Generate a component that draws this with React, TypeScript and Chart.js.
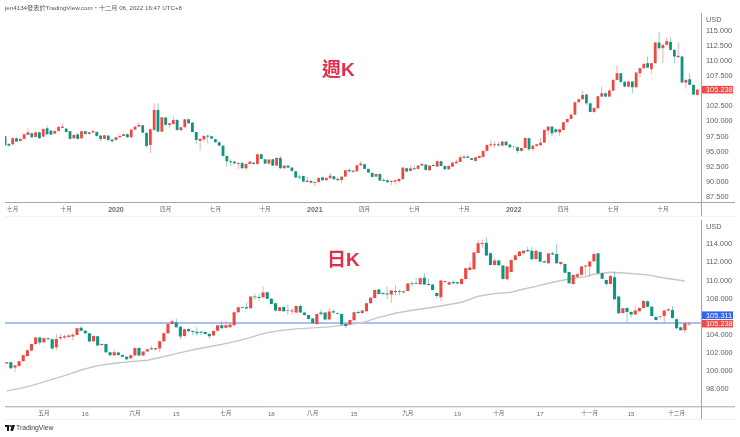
import { useEffect, useRef } from 'react'
import { Chart, registerables } from 'chart.js'

Chart.register(...registerables)

const UP = '#ea4a43'
const DOWN = '#0f9480'
const FONT = '"Liberation Sans","Noto Sans CJK TC",sans-serif'

// weekly candles
const weeklyOpen = [97.54,96.28,96.22,97.22,96.78,97.11,97.77,98.04,97.44,98.2,97.49,98.87,98.48,97.99,98.43,98.92,98.81,98.37,97.22,97.88,97.22,98.37,97.93,98.2,98.26,97.66,97.11,97.66,97.0,96.94,97.38,97.6,97.88,97.38,98.65,99.14,99.36,98.1,96.12,98.59,101.89,98.32,100.63,99.42,99.58,100.24,98.54,99.03,100.35,99.8,98.26,96.78,97.05,97.66,97.54,97.05,96.56,96.0,94.3,93.42,93.37,92.98,93.15,92.27,92.98,93.2,92.98,94.58,93.75,93.04,93.75,92.71,93.97,92.27,92.71,92.38,91.77,90.89,91.0,90.01,90.18,89.85,90.01,90.78,90.29,90.62,90.95,90.51,90.34,90.89,91.99,91.66,91.77,92.76,92.93,92.16,91.5,90.89,91.33,90.34,90.29,90.01,90.07,90.12,90.45,92.27,91.83,92.27,92.16,92.71,92.87,91.94,92.82,92.54,93.42,92.65,92.1,92.54,93.09,93.31,93.97,94.19,93.92,93.48,93.97,94.14,95.13,96.06,96.06,96.22,96.0,96.67,96.17,95.79,95.73,95.13,95.62,97.22,95.45,95.95,96.06,96.5,98.48,99.14,98.7,98.2,98.59,99.86,100.41,101.12,103.16,103.65,104.43,102.99,101.56,102.17,104.1,104.65,104.1,105.09,106.85,107.95,106.52,105.75,106.58,105.64,107.95,108.78,109.61,108.62,109.61,113.02,112.08,112.63,113.13,111.81,110.6,110.71,106.42,106.96,106.03,104.37]
const weeklyClose = [96.06,96.0,97.22,96.67,97.11,97.88,98.2,97.38,98.2,97.22,98.76,97.88,97.82,98.43,99.09,99.14,98.26,97.11,97.77,97.11,98.37,97.93,98.2,98.43,97.6,97.11,97.71,96.94,96.72,97.38,97.6,97.88,97.38,98.65,99.14,99.42,98.15,95.95,98.7,101.89,98.32,100.68,99.42,99.69,100.24,98.59,99.03,100.35,99.69,98.26,96.94,97.11,97.6,97.49,97.16,96.56,96.0,94.3,93.42,93.26,93.09,93.15,92.27,92.98,93.37,92.98,94.58,93.81,93.04,93.7,92.71,93.97,92.27,92.71,92.38,91.83,90.73,90.73,90.07,90.23,89.9,90.01,90.67,90.29,90.67,91.05,90.45,90.29,90.89,91.94,91.77,91.88,92.76,93.04,92.16,91.55,90.84,91.33,90.23,90.18,89.96,90.18,90.29,90.51,92.38,91.72,92.27,92.1,92.71,92.98,91.99,92.71,92.65,93.42,92.65,92.1,92.65,93.2,93.37,94.08,94.19,93.97,93.64,94.08,94.3,95.13,96.12,96.22,96.22,96.06,96.67,96.06,95.73,95.84,95.13,95.62,97.27,95.4,96.0,96.22,96.5,98.59,99.14,98.04,98.26,98.7,99.86,100.41,101.12,103.16,103.65,104.37,102.99,101.56,102.22,104.15,104.65,104.1,105.09,106.85,107.95,106.52,105.75,106.58,105.64,108.06,108.78,109.5,108.89,109.61,113.02,112.08,112.63,113.24,111.81,110.71,110.82,106.42,106.85,106.03,104.43,105.238]
const weeklyHigh = [97.6,96.39,97.4,97.4,97.2,97.95,98.87,98.15,98.3,98.3,98.85,99.3,98.6,98.5,99.15,99.69,98.9,98.45,97.85,98,98.45,98.45,98.25,98.55,98.35,97.7,97.8,97.75,97.1,97.45,97.7,97.95,98,98.7,99.2,99.85,99.45,98.2,98.8,102.99,102.99,100.75,100.75,99.75,100.79,100.35,99.1,100.45,100.45,99.9,98.3,97.2,97.7,97.75,97.65,97.1,96.65,96.05,94.35,93.75,93.45,93.25,93.2,93.05,93.45,93.3,94.65,94.65,93.8,93.78,93.85,94.05,94.3,92.8,92.8,92.45,91.85,91.2,91.05,90.9,90.3,90.1,90.75,90.85,90.75,91.5,91.05,90.8,90.95,92.0,92.27,91.95,92.85,93.42,93.0,92.2,91.55,91.4,91.4,90.6,90.4,90.25,90.35,90.6,92.45,92.35,92.71,92.71,92.8,93.05,92.95,92.8,92.9,93.7,93.5,92.7,92.7,93.25,93.64,94.47,94.52,94.52,94.0,94.15,94.35,95.2,96.2,96.89,96.67,96.6,96.75,96.75,96.25,95.95,95.8,95.7,97.33,97.3,96.05,96.3,97.3,98.65,99.25,99.2,98.8,98.8,99.92,100.45,101.2,103.25,103.75,105.0,104.55,103.05,102.3,104.2,105.8,104.75,105.4,106.95,109.25,108.0,106.7,106.65,106.65,108.15,108.85,109.6,110.7,109.7,113.1,114.75,112.7,113.8,113.9,111.85,113.07,110.8,106.95,107.95,106.1,105.4]
const weeklyLow = [96.0,95.84,96.06,96.6,96.7,97.05,97.7,97.3,97.35,97.1,97.4,97.8,97.75,97.9,98.35,98.85,98.2,97.05,97.1,97.05,97.1,97.85,97.85,98.1,97.5,96.67,97.0,96.67,96.45,96.85,97.3,97.55,97.3,97.3,98.55,99.05,98.1,95.67,94.74,98.5,98.2,98.25,99.35,98.87,99.5,98.5,98.45,98.95,99.6,98.2,96.28,95.18,96.6,96.39,97.05,96.5,95.95,94.25,92.54,92.65,92.95,92.14,92.2,91.87,92.9,92.9,92.9,93.75,92.98,92.95,92.65,92.65,92.2,92.2,92.3,91.75,90.65,90.45,89.9,89.95,89.85,89.34,89.9,90.2,90.2,90.55,90.4,90.2,89.79,90.85,91.55,91.6,91.7,92.7,92.1,91.5,90.8,90.8,90.15,90.1,89.9,89.5,89.56,90.05,90.4,91.65,91.75,92.0,92.1,92.65,91.9,91.85,92.6,92.5,92.6,92.05,92.05,92.5,93.0,93.25,93.9,93.9,93.6,93.37,93.9,94.05,95.05,95.73,95.67,95.84,95.95,96.0,95.65,95.4,94.74,95.05,95.55,95.1,95.1,95.85,96.0,96.45,97.8,97.6,98.0,97.6,98.5,99.8,100.35,101.05,103.1,103.6,102.7,101.5,101.3,102.1,104.0,104.0,104.0,105.0,106.8,106.4,105.65,105.6,104.65,105.55,107.3,108.7,108.8,107.85,109.55,111.7,109.6,112.55,111.7,109.6,110.5,106.35,105.4,105.95,104.35,104.15]

// daily candles
const dailyOpen = [100.84,100.98,100.39,100.57,101.09,101.68,102.27,103.0,103.7,103.19,103.63,103.52,102.63,103.63,103.7,103.78,103.81,104.0,104.8,104.47,104.18,103.3,103.85,102.89,103.0,102.08,101.75,102.05,101.79,101.6,101.42,101.72,102.56,101.72,102.16,102.52,102.38,102.49,103.3,104.18,105.21,105.36,104.91,103.88,104.66,104.44,104.36,104.36,104.33,104.11,103.92,104.47,105.06,104.8,104.84,105.06,106.5,107.05,107.05,106.94,108.23,108.19,108.15,108.7,108.0,107.49,106.64,107.08,106.75,106.57,106.46,107.19,106.46,106.2,105.8,105.21,106.46,106.46,105.69,106.6,106.39,106.31,105.21,105.14,105.61,106.53,106.42,106.6,107.49,108.08,109.0,108.63,108.56,108.45,108.85,108.74,108.78,108.85,109.7,109.7,109.59,110.32,109.62,109.55,108.63,108.15,109.84,109.55,109.84,109.81,109.62,110.17,111.17,111.24,113.05,114.04,114.18,113.01,111.72,112.2,111.65,110.14,110.95,112.27,112.72,113.01,113.37,113.3,112.38,113.15,112.12,111.9,113.01,112.93,111.83,111.83,110.95,109.62,110.43,110.65,111.54,111.54,112.12,113.01,110.8,110.06,109.62,110.36,108.23,106.42,106.97,106.53,106.24,106.6,106.97,107.71,107.12,105.98,105.98,106.09,106.68,106.75,105.72,104.84,104.51,105.14]
const dailyClose = [100.98,100.32,100.61,101.09,101.75,102.3,103.0,103.7,103.15,103.63,103.52,102.49,103.56,103.78,103.85,103.92,104.03,104.73,104.47,104.18,103.26,103.88,102.82,103.0,102.08,101.75,102.08,101.79,101.6,101.31,101.75,102.56,101.72,102.16,102.41,102.41,102.52,103.3,104.18,105.21,105.5,104.84,103.81,104.62,104.4,104.33,104.18,104.25,104.11,103.85,104.44,105.06,104.73,105.06,105.14,106.5,107.05,106.97,106.9,108.23,108.15,108.08,108.67,108.0,107.41,106.68,107.05,106.6,106.68,106.68,107.19,106.46,106.2,105.76,105.32,106.31,106.31,105.69,106.57,106.46,106.31,105.14,104.99,105.65,106.5,106.42,106.68,107.49,108.11,108.96,108.52,108.52,108.45,108.89,108.74,108.85,108.67,109.66,109.62,109.62,110.25,109.55,109.51,108.96,108.3,109.99,109.95,109.81,109.7,109.66,110.17,111.35,111.43,113.08,114.11,114.15,112.75,111.72,112.2,111.68,110.17,111.54,112.27,112.79,113.19,113.3,113.23,112.35,113.3,112.09,111.98,112.97,112.86,111.9,112.05,110.87,109.7,110.62,110.69,111.54,111.65,112.09,112.93,110.8,110.21,109.62,110.5,107.93,106.39,106.94,106.53,106.24,106.68,106.97,107.75,107.12,106.09,105.65,106.05,106.68,106.83,105.87,104.73,104.51,105.28,105.238]
const dailyHigh = [101.05,101.05,100.68,101.15,101.8,102.4,103.05,103.8,103.8,103.75,103.7,103.6,104.1,104.07,104.03,104.1,104.25,104.8,104.98,104.55,104.25,103.95,103.9,103.05,103.05,102.15,102.41,102.1,101.85,101.65,101.8,102.6,102.6,102.2,102.45,102.8,102.56,103.35,104.25,105.25,105.72,105.8,105,104.7,104.7,104.5,104.85,104.4,104.4,104.2,104.5,105.1,105.5,105.58,105.2,106.55,107.1,107.1,107.55,108.3,108.55,108.55,109.33,108.75,108.05,107.55,107.1,107.15,107.34,106.94,107.25,107.38,106.5,106.25,105.85,106.35,106.83,106.5,106.94,106.83,106.45,106.35,105.3,105.7,106.55,106.75,106.75,107.55,108.2,109.05,109.1,108.7,109.33,108.95,109.44,109.03,108.96,109.72,109.92,110.22,110.3,110.8,110.22,109.6,108.7,110.05,110.0,109.88,110.1,109.9,110.25,111.4,112.0,113.15,114.48,114.48,114.74,113.1,112.46,112.3,111.7,111.6,112.35,112.85,113.25,113.4,113.74,113.74,113.37,113.2,112.2,113.05,113.15,113.99,112.1,111.9,111.0,110.7,110.8,111.6,111.75,112.15,113.1,113.05,110.85,110.15,110.6,110.99,108.3,107.0,107.05,106.6,107.23,107.05,107.86,107.8,107.2,106.05,106.1,106.75,106.94,107.18,105.8,104.9,105.35,105.46]
const dailyLow = [100.75,100.2,99.87,100.5,101.0,101.6,102.2,102.9,102.9,103.05,103.4,102.4,102.34,103.37,103.52,103.7,103.37,103.95,104.4,104.1,103.2,103.2,102.75,102.8,102.0,101.65,101.7,101.7,101.5,101.2,101.35,101.65,101.65,101.65,102.1,102.35,102.3,102.1,103.25,104.1,105.15,104.8,103.52,103.8,104.35,103.96,103.9,104.0,104.05,103.6,103.85,104.4,104.7,104.75,104.8,105.0,106.45,106.9,106.85,106.9,107.85,107.78,108.1,107.95,107.35,106.57,106.6,106.55,106.2,106.24,106.4,106.4,106.15,105.7,105.25,105.1,106.09,105.6,105.6,106.4,106.25,105.05,104.73,105.05,105.55,106.35,106.35,106.55,107.45,108.0,108.45,108.45,107.9,107.53,108.37,108.37,108.6,108.8,109.3,109.55,109.5,109.5,109.45,108.9,108.04,107.75,109.75,109.5,109.6,109.6,109.55,110.1,111.1,111.2,113.0,113.6,112.7,111.65,111.65,111.6,110.1,110.05,110.9,112.2,112.65,112.95,113.15,112.3,112.3,112.0,111.9,111.85,112.8,111.85,111.65,110.8,109.65,109.55,110.3,110.5,110.6,110.43,112.05,110.75,110.15,109.4,109.55,107.88,106.3,106.35,105.36,105.95,106.2,106.55,106.9,107.05,106.05,105.6,105.72,105.28,106.6,105.8,104.65,104.45,104.15,105.05]

// 100 day average, read every few bars
const maIndex = [0,3,6,10,14,18,22,26,30,34,38,42,46,50,54,58,61,63,66,70,74,78,82,86,90,94,98,102,106,110,114,118,122,124,128,132,136,140,142,146,150,155,159,164]
const maValues = [97.82,98.07,98.4,98.96,99.51,100.13,100.61,100.87,101.05,101.2,101.6,102.05,102.45,102.78,103.15,103.59,104.0,104.25,104.47,104.66,104.77,104.88,105.1,105.36,105.94,106.39,106.72,106.97,107.27,107.6,108.26,108.56,108.7,108.96,109.36,109.81,110.17,110.43,110.69,110.91,110.8,110.62,110.28,109.95]
const dailyLevel = 105.311

const weeklyTicks = [115,112.5,110,107.5,102.5,100,97.5,95,92.5,90,87.5]
const dailyTicks = [114,112,110,108,104,102,100,98]
const weeklyDates: [number, string][] = [[2,'七月'],[16,'十月'],[29,'2020'],[42,'四月'],[55,'七月'],[68,'十月'],[81,'2021'],[94,'四月'],[107,'七月'],[120,'十月'],[133,'2022'],[146,'四月'],[159,'七月'],[172,'十月']]
const dailyDates: [number, string][] = [[9,'五月'],[19,'16'],[31,'六月'],[41,'15'],[53,'七月'],[64,'18'],[74,'八月'],[84,'15'],[97,'九月'],[109,'19'],[119,'十月'],[129,'17'],[141,'十一月'],[151,'15'],[162,'十二月']]

type Tag = { value: number; text: string; color: string; shift: number }

type PanelProps = {
  open: number[]
  close: number[]
  high: number[]
  low: number[]
  top: number
  height: number
  axisHeight: number
  yMin: number
  yMax: number
  xMin: number
  xMax: number
  bodyWidth: number
  yTicks: number[]
  dates: [number, string][]
  tags: Tag[]
  caption: string
  captionX: number
  captionY: number
  frameTop: number
  frameBottom: number
  average?: boolean
}

function dateFont(text?: string) {
  if (text && /^\d{4}$/.test(text)) return { family: FONT, size: 7, weight: 'bold' }
  if (text && /^\d+$/.test(text)) return { family: FONT, size: 6.2, weight: 'normal' }
  return { family: FONT, size: 5.6, weight: 'normal' }
}

function CandlePanel(p: PanelProps) {
  const ref = useRef<HTMLCanvasElement>(null)

  useEffect(() => {
    if (!ref.current) return
    const up = p.close.map((c, i) => c >= p.open[i])
    const colors = up.map(u => (u ? UP : DOWN))
    const wickColors = up.map(u => (u ? 'rgba(234,74,67,0.55)' : 'rgba(15,148,128,0.55)'))
    const dateLabel = new Map(p.dates)

    const datasets: any[] = [
      {
        data: p.open.map((o, i) => ({ x: i, y: [o, p.close[i]] })),
        backgroundColor: colors,
        barThickness: p.bodyWidth,
        grouped: false,
        inflateAmount: 0,
        order: 1,
      },
      {
        data: p.high.map((h, i) => ({ x: i, y: [p.low[i], h] })),
        backgroundColor: wickColors,
        barThickness: 0.8,
        grouped: false,
        inflateAmount: 0,
        order: 2,
      },
    ]
    if (p.average) {
      datasets.push(
        {
          type: 'line',
          data: maIndex.map((x, i) => ({ x, y: maValues[i] })),
          borderColor: '#c6c6c6',
          borderWidth: 1.4,
          pointRadius: 0,
          order: 3,
        },
        {
          type: 'line',
          data: [{ x: p.xMin, y: dailyLevel }, { x: p.xMax, y: dailyLevel }],
          borderColor: '#a9bff4',
          borderWidth: 2,
          pointRadius: 0,
          order: 4,
        },
      )
    }

    const overlay = {
      id: 'overlay',
      afterDraw(chart: any) {
        const { ctx, chartArea } = chart
        const y = chart.scales.y
        ctx.save()
        ctx.strokeStyle = '#a6a6a6'
        ctx.lineWidth = 1
        ctx.beginPath()
        ctx.moveTo(chartArea.left, chartArea.bottom + 0.5)
        ctx.lineTo(735, chartArea.bottom + 0.5)
        ctx.moveTo(chartArea.right + 0.5, p.frameTop)
        ctx.lineTo(chartArea.right + 0.5, p.frameBottom)
        ctx.stroke()
        ctx.strokeStyle = '#f1f1f1'
        ctx.beginPath()
        ctx.moveTo(chartArea.left, p.frameBottom + 0.5)
        ctx.lineTo(735, p.frameBottom + 0.5)
        ctx.stroke()

        ctx.textBaseline = 'middle'
        ctx.textAlign = 'left'
        ctx.font = `7.4px ${FONT}`
        ctx.fillStyle = '#666'
        ctx.fillText('USD', chartArea.right + 5, p.frameTop + 7)

        p.tags.forEach(t => {
          const py = y.getPixelForValue(t.value) + t.shift
          ctx.fillStyle = t.color
          ctx.fillRect(chartArea.right + 1, py - 3.8, 31, 7.6)
          ctx.fillStyle = '#fff'
          ctx.fillText(t.text, chartArea.right + 5, py + 0.3)
        })

        ctx.font = `bold 19px ${FONT}`
        ctx.fillStyle = '#e22f4c'
        ctx.fillText(p.caption, p.captionX, p.captionY)
        ctx.restore()
      },
    }

    const chart = new Chart(ref.current, {
      type: 'bar',
      data: { datasets },
      plugins: [overlay],
      options: {
        animation: false,
        responsive: false,
        events: [],
        layout: { padding: { left: 5, top: p.frameTop } },
        plugins: { legend: { display: false }, tooltip: { enabled: false } },
        scales: {
          x: {
            type: 'linear',
            offset: false,
            min: p.xMin,
            max: p.xMax,
            grid: { display: false, drawTicks: false },
            border: { display: false },
            afterFit: (s: any) => {
              s.height = p.axisHeight
              s.paddingLeft = 0
              s.paddingRight = 0
            },
            afterBuildTicks: (s: any) => { s.ticks = p.dates.map(([value]) => ({ value })) },
            ticks: {
              autoSkip: false,
              maxRotation: 0,
              padding: 4,
              color: '#6b6b6b',
              callback: (v: any) => dateLabel.get(v) ?? '',
              font: (c: any) => dateFont(dateLabel.get(c.tick?.value)),
            },
          },
          y: {
            position: 'right',
            min: p.yMin,
            max: p.yMax,
            grid: { display: false, drawTicks: false },
            border: { display: false },
            afterFit: (s: any) => {
              s.width = 39
              s.paddingTop = 0
              s.paddingBottom = 0
            },
            afterBuildTicks: (s: any) => { s.ticks = p.yTicks.map(value => ({ value })) },
            ticks: {
              autoSkip: false,
              padding: 5,
              color: '#5f5f5f',
              font: { family: FONT, size: 7.4 },
              callback: (v: any) => Number(v).toFixed(3),
            },
          },
        },
      } as any,
    })

    return () => chart.destroy()
  }, [])

  return (
    <canvas
      ref={ref}
      width={740}
      height={p.height}
      style={{ position: 'absolute', left: 0, top: p.top, display: 'block' }}
    />
  )
}

export default function App() {
  return (
    <div style={{ position: 'absolute', left: 0, top: 0, width: 740, height: 437, background: '#fff', overflow: 'hidden', fontFamily: FONT }}>
      <CandlePanel
        open={weeklyOpen}
        close={weeklyClose}
        high={weeklyHigh}
        low={weeklyLow}
        top={0}
        height={218}
        axisHeight={16}
        yMin={86.7}
        yMax={117.89}
        xMin={0}
        xMax={181.96}
        bodyWidth={2.8}
        yTicks={weeklyTicks}
        dates={weeklyDates}
        tags={[{ value: 105.238, text: '105.238', color: '#ef4a43', shift: 0 }]}
        caption="週K"
        captionX={322}
        captionY={71}
        frameTop={13}
        frameBottom={216}
      />
      <CandlePanel
        open={dailyOpen}
        close={dailyClose}
        high={dailyHigh}
        low={dailyLow}
        top={218}
        height={219}
        axisHeight={30.7}
        yMin={96.12}
        yMax={116.68}
        xMin={-0.41}
        xMax={167.9}
        bodyWidth={3.1}
        yTicks={dailyTicks}
        dates={dailyDates}
        tags={[
          { value: 105.311, text: '105.311', color: '#2f66f0', shift: -7.8 },
          { value: 105.238, text: '105.238', color: '#ef4a43', shift: 0 },
        ]}
        caption="日K"
        captionX={327}
        captionY={43}
        frameTop={2}
        frameBottom={201}
        average
      />
      <div style={{ position: 'absolute', left: 5, top: 3, fontSize: 6.2, lineHeight: '10px', color: '#555', whiteSpace: 'nowrap' }}>
        jen4134發表於TradingView.com・十二月 06, 2022 16:47 UTC+8
      </div>
      <svg style={{ position: 'absolute', left: 5, top: 425 }} width="10" height="6" viewBox="0 0 10 6">
        <path d="M0 0h4v6H2V2H0z M6.5 0h3.5L8 6H5.5z" fill="#131722" />
        <circle cx="5.2" cy="1" r="0.9" fill="#131722" />
      </svg>
      <div style={{ position: 'absolute', left: 16, top: 423, fontSize: 6.8, lineHeight: '10px', color: '#444', whiteSpace: 'nowrap' }}>
        TradingView
      </div>
    </div>
  )
}
